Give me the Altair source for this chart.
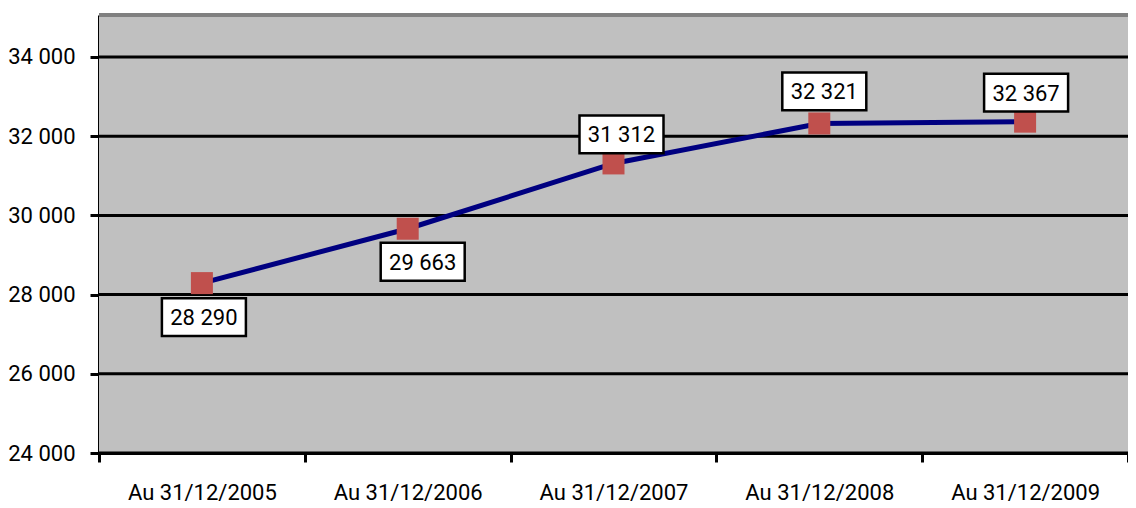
import altair as alt
import pandas as pd

dates = ["Au 31/12/2005", "Au 31/12/2006", "Au 31/12/2007", "Au 31/12/2008", "Au 31/12/2009"]
values = [28290, 29663, 31312, 32321, 32367]
y_ticks = [24000, 26000, 28000, 30000, 32000, 34000]

# label box offsets (px) relative to each point
label_dx = [2, 15, 8, 5, 1]
label_dy = [34, 33, -29, -32, -29]

df = pd.DataFrame({"date": dates, "value": values})
df["label"] = [f"{v:,}".replace(",", " ") for v in values]
grid_df = pd.DataFrame({"tick": y_ticks})

FONT = "Roboto, sans-serif"
YSCALE = alt.Scale(domain=[24000, 35060], nice=False, zero=False)
YAXIS = alt.Axis(values=y_ticks, domainColor="black", domainWidth=3,
                 tickColor="black", tickWidth=3, tickSize=9, grid=False,
                 labelFont=FONT, labelFontSize=22, labelColor="black",
                 labelPadding=15,
                 labelExpr="replace(format(datum.value, ','), ',', ' ')")

xenc = alt.X("date:N", sort=dates, title=None,
             scale=alt.Scale(type="band", paddingInner=0, paddingOuter=0),
             axis=alt.Axis(labelAngle=0, tickBand="extent", domainColor="black",
                           domainWidth=3, tickColor="black", tickWidth=3, tickSize=9,
                           labelFont=FONT, labelFontSize=22, labelColor="black",
                           labelPadding=20, grid=False))
yenc = alt.Y("value:Q", title=None, scale=YSCALE, axis=YAXIS)

base = alt.Chart(df)

bg = base.mark_rect(color="#C0C0C0").encode(
    x=alt.value(0), x2=alt.value("width"), y=alt.value(0), y2=alt.value("height"))
top_border = base.mark_rule(color="#808080", strokeWidth=4).encode(y=alt.value(0))
grid = alt.Chart(grid_df).mark_rule(color="black", strokeWidth=3).encode(
    y=alt.Y("tick:Q", title=None, scale=YSCALE, axis=YAXIS))

line = base.mark_line(color="#000080", strokeWidth=5).encode(x=xenc, y=yenc)
pts = base.mark_point(shape="square", filled=True, color="#C0504D", size=484, opacity=1).encode(
    x=xenc, y=yenc)

box_shape = "M-1,-0.45L1,-0.45L1,0.45L-1,0.45Z"
layers = [bg, top_border, grid, line, pts]
for d, dx, dy in zip(dates, label_dx, label_dy):
    sub = base.transform_filter(alt.datum.date == d)
    layers.append(sub.mark_point(shape=box_shape, filled=False, fill="white", fillOpacity=1,
                                 stroke="black", strokeWidth=2.5, size=84 * 84, opacity=1,
                                 xOffset=dx, yOffset=dy).encode(
        x=alt.X("date:N", sort=dates), y="value:Q"))
    layers.append(sub.mark_text(font=FONT, fontSize=22, color="black", dx=dx, dy=dy + 1,
                                baseline="middle", align="center").encode(
        x=alt.X("date:N", sort=dates), y="value:Q", text="label:N"))

chart = alt.layer(*layers).properties(
    width=1029, height=438,
    padding={"left": 91, "top": 7, "right": 0, "bottom": 52},
    autosize=alt.AutoSizeParams(type="none"),
).configure_view(stroke=None).configure(background="white")

chart.save("out.html", embed_options={"renderer": "svg", "actions": False})
